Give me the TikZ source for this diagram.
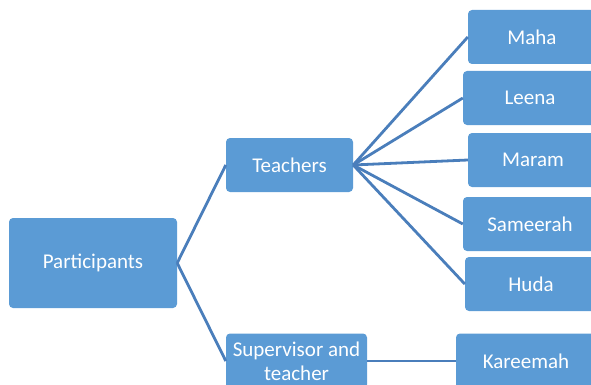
\documentclass[tikz,border=0pt]{standalone}
\usepackage{fontspec}
\setmainfont{Carlito}
\usepackage{tikz}

\definecolor{boxblue}{HTML}{5B9BD5}
\definecolor{lineblue}{HTML}{4A7EBB}

\tikzset{
  box/.style={rectangle,rounded corners=4pt,fill=boxblue,text=white,
    inner sep=0pt,align=center,minimum height=54pt,
    font=\fontsize{21}{24}\selectfont},
  link/.style={draw=lineblue,line width=2.8pt}
}

\begin{document}
\begin{tikzpicture}[x=1pt,y=-1pt]
            \clip (0,0) rectangle (591,385);
            \useasboundingbox (0,0) rectangle (591,385);
            \node[box,minimum width=168pt,minimum height=90pt] (part) at (93,263) {Participants};
            \node[box,minimum width=127pt] (teach) at (289.5,165) {Teachers};
            \node[box,minimum width=141pt,minimum height=55pt] (sup) at (296.5,361) {Supervisor and\\teacher};
            \node[box,minimum width=128pt] (maha) at (532,37) {Maha};
            \node[box,minimum width=134pt] (leena) at (530,98) {Leena};
            \node[box,minimum width=130pt] (maram) at (533,160) {Maram};
            \node[box,minimum width=134pt] (sameerah) at (530,224) {Sameerah};
            \node[box,minimum width=132pt] (huda) at (531,284) {Huda};
            \node[box,minimum width=140pt,minimum height=55pt] (kareemah) at (526,361) {Kareemah};
            \path[link](part.east) edge (teach.west)
                        edge (sup.west)
                    (teach.east) edge (maha.west)
                        edge (leena.west)
                        edge (maram.west)
                        edge (sameerah.west)
                        edge (huda.west)
                    (sup.east) edge (kareemah.west);
        \end{tikzpicture}
\end{document}
